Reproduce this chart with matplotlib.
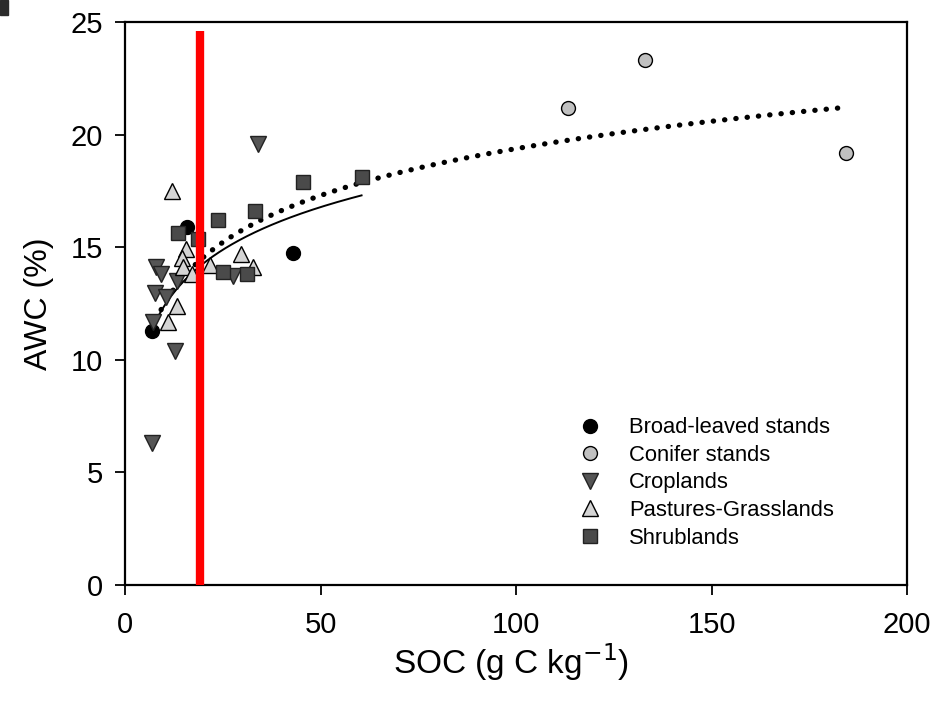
import numpy as np
import matplotlib
matplotlib.use("Agg")
import matplotlib.pyplot as plt
from matplotlib.patches import Rectangle

plt.rcParams['font.family'] = ['Liberation Sans', 'DejaVu Sans']

# ---- data ----
broad_x = [6.8, 15.8, 43.0]
broad_y = [11.3, 15.9, 14.75]

conifer_x = [113.3, 133.0, 184.4]
conifer_y = [21.2, 23.3, 19.2]

crop_x = [34.1, 8.0, 9.3, 13.2, 7.7, 10.6, 7.2, 12.8, 6.9, 27.7]
crop_y = [19.6, 14.1, 13.8, 13.5, 12.95, 12.8, 11.7, 10.4, 6.3, 13.7]

past_x = [11.9, 15.6, 14.5, 14.9, 17.2, 13.2, 11.1, 29.6, 32.8, 21.7]
past_y = [17.5, 14.9, 14.5, 14.1, 13.8, 12.4, 11.7, 14.7, 14.1, 14.2]

shrub_x = [13.6, 18.6, 23.9, 33.2, 45.6, 60.5, 25.1, 31.3]
shrub_y = [15.65, 15.35, 16.2, 16.6, 17.9, 18.1, 13.9, 13.8]

# logarithmic trend lines, AWC = a + b*ln(SOC)
fit_all_a, fit_all_b = 5.56, 3.00      # all stands (dotted)
fit_nc_a, fit_nc_b = 6.08, 2.735       # without conifer stands (solid)

threshold_soc = 19.2
threshold_top = 24.6

x_ticks = [0, 50, 100, 150, 200]
y_ticks = [0, 5, 10, 15, 20, 25]

# ---- figure ----
fig = plt.figure(figsize=(9.38, 7.08), dpi=100)
ax = fig.add_axes([125/938, 1-585/708, (907-125)/938, (585-22)/708])

all_x = np.array(broad_x + conifer_x + crop_x + past_x + shrub_x)
nc_x = np.array(broad_x + crop_x + past_x + shrub_x)

xx1 = np.linspace(all_x.min(), all_x.max() - 1.4, 200)
ax.plot(xx1, fit_all_a + fit_all_b * np.log(xx1), color='black', lw=3.8,
        linestyle=(0, (0.05, 2.1)), dash_capstyle='round', zorder=2)

xx2 = np.linspace(nc_x.min(), nc_x.max(), 200)
ax.plot(xx2, fit_nc_a + fit_nc_b * np.log(xx2), color='black', lw=1.4, zorder=2)

ms = 10
ax.plot(broad_x, broad_y, 'o', ms=ms, mfc='black', mec='black', label='Broad-leaved stands', zorder=3)
ax.plot(conifer_x, conifer_y, 'o', ms=ms, mfc='#c0c0c0', mec='black', mew=1, label='Conifer stands', zorder=3)
ax.plot(crop_x, crop_y, 'v', ms=ms+1, mfc='#555555', mec='#222222', mew=1, label='Croplands', zorder=3)
ax.plot(past_x, past_y, '^', ms=ms+1, mfc='#d4d4d4', mec='black', mew=1, label='Pastures-Grasslands', zorder=3)
ax.plot(shrub_x, shrub_y, 's', ms=ms-0.5, mfc='#4a4a4a', mec='#222222', mew=1, label='Shrublands', zorder=3)

ax.plot([threshold_soc, threshold_soc], [0, threshold_top], color='#ff0000', lw=6, solid_capstyle='butt', zorder=4)

ax.set_xlim(0, 200)
ax.set_ylim(0, 25)
ax.set_xticks(x_ticks)
ax.set_yticks(y_ticks)
ax.tick_params(direction='out', length=7, width=1.3, labelsize=21)
ax.tick_params(axis='x', pad=12)
ax.tick_params(axis='y', pad=9)
for s in ax.spines.values():
    s.set_linewidth(1.6)

ax.set_xlabel('SOC (g C kg$^{-1}$)', fontsize=24, va='baseline')
ax.xaxis.set_label_coords(0.494, (585-674)/563)
ax.set_ylabel('AWC (%)', fontsize=23, labelpad=12)

leg = ax.legend(loc='upper left', bbox_to_anchor=(0.58, 0.298), frameon=False,
                fontsize=15.8, handlelength=1.0, handletextpad=1.3,
                labelspacing=0.3, borderpad=0, borderaxespad=0)

fig.patches.append(Rectangle((0, 1-15/708), 8/938, 15/708, transform=fig.transFigure,
                             color='#2b2b2b', zorder=10))

fig.savefig('out.png', dpi=100)
